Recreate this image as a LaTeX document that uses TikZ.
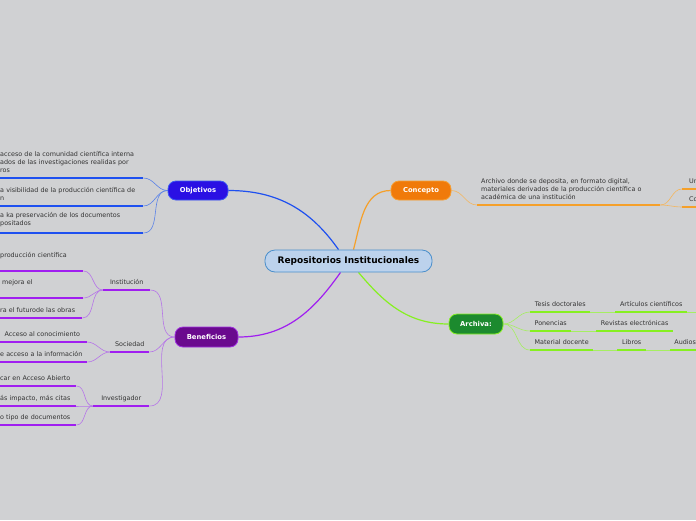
\documentclass[tikz,border=0pt]{standalone}
\usepackage{fontspec}
\setmainfont{DejaVu Sans}
\pgfdeclarelayer{paper}
\pgfdeclarelayer{background layer}
\pgfsetlayers{paper,background layer,main}
\definecolor{bg}{HTML}{D0D1D3}
\definecolor{txt}{HTML}{333333}
\definecolor{rootfill}{HTML}{BCD2EC}
\definecolor{rootline}{HTML}{4A8FCB}
\definecolor{objfill}{HTML}{2A10E4}
\definecolor{objline}{HTML}{3C5AF2}
\definecolor{confill}{HTML}{F07A0A}
\definecolor{conline}{HTML}{F5A035}
\definecolor{benfill}{HTML}{6A0A8E}
\definecolor{benline}{HTML}{A030E0}
\definecolor{arcfill}{HTML}{1C8A2E}
\definecolor{arcline}{HTML}{86F024}
\definecolor{bluedark}{HTML}{1E50F0}
\definecolor{bluelight}{HTML}{5A82E8}
\definecolor{orgdark}{HTML}{F5A02A}
\definecolor{orglight}{HTML}{F4B65E}
\definecolor{purdark}{HTML}{A01EF0}
\definecolor{purlight}{HTML}{B675E8}
\definecolor{limdark}{HTML}{86F020}
\definecolor{limlight}{HTML}{A6EE62}
\tikzstyle{root}=[rectangle,rounded corners=10pt,draw=rootline,fill=rootfill,line width=0.8pt,minimum width=167pt,minimum height=22pt,inner sep=0pt,font=\fontsize{9}{10}\selectfont\bfseries]
\tikzstyle{topic}=[rectangle,rounded corners=8pt,line width=0.8pt,minimum width=60pt,minimum height=19pt,inner sep=0pt,text=white,font=\fontsize{6.8}{8}\selectfont\bfseries]
\tikzstyle{leaf}=[inner xsep=4pt,inner ysep=5.5pt,text=txt,font=\fontsize{6.4}{8}\selectfont]
\tikzstyle{one}=[leaf,text depth=0pt]
\tikzstyle{cut}=[leaf,align=left,anchor=south west]
\tikzstyle{ubl}=[line width=1.5pt,bluedark]
\tikzstyle{cbl}=[line width=0.6pt,bluelight]
\tikzstyle{uor}=[line width=1.5pt,orgdark]
\tikzstyle{cor}=[line width=0.6pt,orglight]
\tikzstyle{upu}=[line width=1.5pt,purdark]
\tikzstyle{cpu}=[line width=0.6pt,purlight]
\tikzstyle{ulm}=[line width=1.5pt,limdark]
\tikzstyle{clm}=[line width=0.6pt,limlight]

\begin{document}
\begin{tikzpicture}[x=1pt,y=1pt]
			\useasboundingbox (0,0) rectangle (696,-520);
			\begin{pgfonlayer}{paper}
				\fill[bg] (0,0) rectangle (696,-520);
			\end{pgfonlayer}
			\clip (0,0) rectangle (696,-520);
			\node (root) at (348.5,-261) [root] {Repositorios Institucionales};
			\node (obj) at (198,-190.5) [topic,fill=objfill,draw=objline] {Objetivos};
			\node (con) at (421,-190.5) [topic,fill=confill,draw=conline] {Concepto};
			\node (ben) at (206.5,-337) [topic,fill=benfill,draw=benline,minimum width=63pt,minimum height=20pt] {Beneficios};
			\node (arc) at (476,-324) [topic,fill=arcfill,draw=arcline,minimum width=54pt,minimum height=20pt] {Archiva:};
			% objetivos
			\node (o1) at (-4,-178) [cut,text width=139pt] {acceso de la comunidad científica interna\\ados de las investigaciones realidas por\\ros};
			\node (o2) at (-4,-206) [cut,text width=139pt] {a visibilidad de la producción científica de\\n};
			\node (o3) at (-4,-233) [cut,text width=139pt] {a ka preservación de los documentos\\positados};
			% concepto
			\node (c1) at (477,-205) [cut,text width=175pt] {Archivo donde se deposita, en formato digital,\\materiales derivados de la producción científica o\\académica de una institución};
			\node (c2) at (682,-189) [cut,one,inner xsep=7pt,text width=20pt] {Un};
			\node (c3) at (682,-207) [cut,one,inner xsep=7pt,text width=20pt] {Co};
			% beneficios
			\node (b1) at (103,-290) [one,anchor=south west,minimum width=47pt] {Institución};
			\node (b2) at (110,-352) [one,anchor=south west,minimum width=39pt] {Sociedad};
			\node (b3) at (93,-406) [one,anchor=south west,minimum width=56pt] {Investigador};
			\node (i1) at (-4,-271) [cut,text width=79pt] {producción científica\\\mbox{}};
			\node (i2) at (-4,-298) [cut,text width=79pt] {\hspace*{2pt}mejora el\\\mbox{}};
			\node (i3) at (-4,-318) [cut,one,text width=78pt] {ra el futurode las obras};
			\node (s1) at (87,-342) [one,anchor=south east,minimum width=89pt] {Acceso al conocimiento};
			\node (s2) at (-4,-362) [cut,one,text width=83pt] {e acceso a la información};
			\node (v1) at (-4,-386) [cut,one,text width=72pt] {car en Acceso Abierto};
			\node (v2) at (-4,-406) [cut,one,text width=72pt] {ás impacto, más citas};
			\node (v3) at (-4,-425) [cut,one,text width=72pt] {o tipo de documentos};
			% archiva
			\node (a1) at (530,-312) [one,anchor=south west,minimum width=60pt] {Tesis doctorales};
			\node (a2) at (615,-312) [one,anchor=south west,minimum width=72pt] {Artículos científicos};
			\node (a3) at (530,-331) [one,anchor=south west,minimum width=41pt] {Ponencias};
			\node (a4) at (596,-331) [one,anchor=south west,minimum width=77pt] {Revistas electrónicas};
			\node (a5) at (530,-350) [one,anchor=south west,minimum width=63pt] {Material docente};
			\node (a6) at (617,-350) [one,anchor=south west,minimum width=29pt] {Libros};
			\node (a7) at (670,-350) [one,anchor=south west,minimum width=30pt] {Audios};
			\coordinate (a2r) at (700,-312);
			\begin{pgfonlayer}{background layer}
				\draw[bluedark,line width=1.2pt] ([xshift=-10pt]root.north) to[out=125,in=0] (obj.east);
				\draw[orgdark,line width=1.2pt] ([xshift=5pt]root.north) to[out=75,in=180] (con.west);
				\draw[purdark,line width=1.2pt] ([xshift=-8pt]root.south) to[out=235,in=0] (ben.east);
				\draw[limdark,line width=1.2pt] ([xshift=10pt]root.south) to[out=-50,in=180] (arc.west);
				\foreach \n in {o1,o2,o3}
					\draw[cbl] (obj.west) to[out=180,in=0] (\n.south east);
				\draw[cor] (con.east) to[out=0,in=180] (c1.south west);
				\foreach \n in {c2,c3}
					\draw[cor] (c1.south east) to[out=0,in=180] (\n.south west);
				\foreach \n in {b1,b2,b3}
					\draw[cpu] (ben.west) to[out=180,in=0] (\n.south east);
				\foreach \n in {i1,i2,i3}
					\draw[cpu] (b1.south west) to[out=180,in=0] (\n.south east);
				\foreach \n in {s1,s2}
					\draw[cpu] (b2.south west) to[out=180,in=0] (\n.south east);
				\foreach \n in {v1,v2,v3}
					\draw[cpu] (b3.south west) to[out=180,in=0] (\n.south east);
				\foreach \n in {a1,a3,a5}
					\draw[clm] (arc.east) to[out=0,in=180] (\n.south west);
				\draw[clm] (a1.south east) -- (a2.south west);
				\draw[clm] (a2.south east) -- (a2r);
				\draw[clm] (a3.south east) -- (a4.south west);
				\draw[clm] (a5.south east) -- (a6.south west);
				\draw[clm] (a6.south east) -- (a7.south west);
			\end{pgfonlayer}
			\foreach \n in {o1,o2,o3}
				\draw[ubl] (\n.south west) -- (\n.south east);
			\foreach \n in {c1,c2,c3}
				\draw[uor] (\n.south west) -- (\n.south east);
			\foreach \n in {b1,b2,b3,i1,i2,i3,s1,s2,v1,v2,v3}
				\draw[upu] (\n.south west) -- (\n.south east);
			\foreach \n in {a1,a2,a3,a4,a5,a6,a7}
				\draw[ulm] (\n.south west) -- (\n.south east);
		\end{tikzpicture}
\end{document}
